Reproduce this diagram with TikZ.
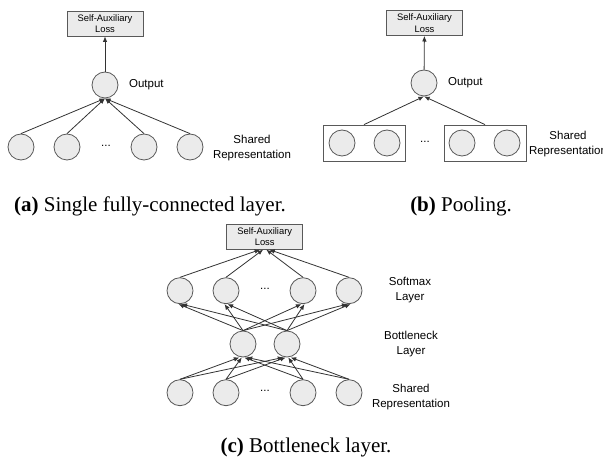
\documentclass[tikz,border=0pt]{standalone}
\usepackage{fontspec}
\setmainfont{Liberation Serif}
\newfontfamily\diagfont{Liberation Sans}
\usetikzlibrary{arrows.meta}

\begin{document}
\begin{tikzpicture}[x=0.5pt,y=-0.5pt,
		every node/.style={font=\diagfont\fontsize{5.75}{7.5}\selectfont},
		unit/.style={circle,draw=black!65,fill=black!8,line width=0.4pt,minimum size=13pt,inner sep=0pt},
		lossbox/.style={draw=black!65,fill=black!8,line width=0.4pt,minimum width=38pt,minimum height=12.5pt,inner sep=0pt,align=center,font=\diagfont\fontsize{4.7}{5.8}\selectfont},
		poolbox/.style={draw=black!65,line width=0.4pt,minimum width=41pt,minimum height=18pt,inner sep=0pt},
		lbl/.style={align=center},
		conn/.style={-{Latex[length=2.8pt,width=2.3pt]},line width=0.4pt,black!80},
		capt/.style={font=\fontsize{10.5}{12}\selectfont}]
	\useasboundingbox (0,0) rectangle (603,459);
	% (a)
	\node[lossbox] (lossa) at (105,23.5) {Self-Auxiliary\\Loss};
	\node[unit] (outa) at (105,85) {};
	\node[anchor=west] (outlbla) at (122,85) {Output};
	\foreach \i/\x in {1/21,2/67,3/144,4/190} {
		\node[unit] (ina\i) at (\x,147) {};
		\draw[conn] (ina\i.north) -- (outa.south);
	}
	\node (dotsa) at (106,146) {...};
	\node[lbl] (sharedlbla) at (252,148) {Shared\\Representation};
	\draw[conn] (outa) -- (lossa);
	% (b)
	\node[lossbox] (lossb) at (424.5,23) {Self-Auxiliary\\Loss};
	\node[unit] (outb) at (424,83) {};
	\node[anchor=west] (outlblb) at (441,83) {Output};
	\node[poolbox] (poolb1) at (364,143) {};
	\node[poolbox] (poolb2) at (485,143) {};
	\foreach \i/\x in {1/342,2/387,3/462,4/507}
		\node[unit] (inb\i) at (\x,143) {};
	\node (dotsb) at (425,142) {...};
	\node[lbl] (sharedlblb) at (568,144) {Shared\\Representation};
	\draw[conn] (poolb1.north) -- (outb.south);
	\draw[conn] (poolb2.north) -- (outb.south);
	\draw[conn] (outb) -- (lossb);
	% (c)
	\node[lossbox] (lossc) at (264.7,236.7) {Self-Auxiliary\\Loss};
	\foreach \i/\x in {1/180,2/226,3/303,4/349} {
		\node[unit] (sm\i) at (\x,290.7) {};
		\node[unit] (sh\i) at (\x,392.7) {};
		\draw[conn] (sm\i.north) -- ([xshift={(\i-2.5)*1.5pt}]lossc.south);
	}
	\node[unit] (bn1) at (243,344) {};
	\node[unit] (bn2) at (287,344) {};
	\foreach \b in {1,2}
		\foreach \s in {1,...,4} {
			\draw[conn] (bn\b.north) -- ([xshift={(\b-1.5)*1.5pt}]sm\s.south);
			\draw[conn] (sh\s.north) -- ([xshift={(\s-2.5)*1.2pt}]bn\b.south);
		}
	\node (dotsc1) at (265,289) {...};
	\node (dotsc2) at (265,391) {...};
	\node[lbl] (smlbl) at (410,290.5) {Softmax\\Layer};
	\node[lbl] (bnlbl) at (411,344.5) {Bottleneck\\Layer};
	\node[lbl] (sharedlblc) at (411,397) {Shared\\Representation};
	% captions
	\node[capt] (capa) at (150,206) {\textbf{(a)} Single fully-connected layer.};
	\node[capt] (capb) at (461,206) {\textbf{(b)} Pooling.};
	\node[capt] (capc) at (306,447) {\textbf{(c)} Bottleneck layer.};
\end{tikzpicture}
\end{document}
